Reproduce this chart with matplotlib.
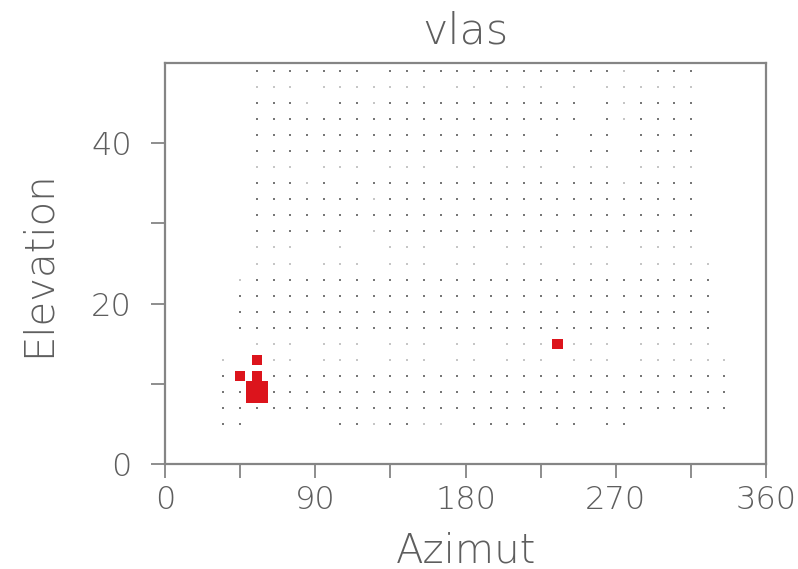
import matplotlib
matplotlib.use("Agg")
import matplotlib.pyplot as plt
import numpy as np

# Azimuth / elevation sampling grid
azimuths = list(range(35, 336, 10))          # 31 columns
elevations = list(range(49, 4, -2))          # 23 rows, top to bottom

# Per-row occupancy: 'o' = regular sample, '+' = weak sample, '.' = no sample
grid_rows = [
    "..ooooooo.oooooooooooooo+.ooo..",  # 49
    "..+++.+++++++.++.+++.+.++++++..",  # 47
    "..ooo+.oo+oooooooooooo.o+oooo..",  # 45
    "..oooooooooooooooooooo.o+oooo..",  # 43
    "..ooooooooooooooooo.o.oo.oooo..",  # 41
    "..ooooooooooooooooooo.oo.oooo..",  # 39
    "..+++.+++.+++.++.+++.+++.++++..",  # 37
    "..ooo+o.oooooooooooooooo+oooo..",  # 35
    "..ooooooo+ooooooooooooooooooo..",  # 33
    "..ooooooooooooooooooooooooooo..",  # 31
    "..oooooo.+ooooooooooooooooooo..",  # 29
    "..+++..+..+++.++.+++.+++.++++..",  # 27
    "..+++.+++.+++.++.+++.+++.+++++.",  # 25
    ".+oooooooooooooooooooooooooooo.",  # 23
    ".ooooooooooooooooooooooooooooo.",  # 21
    ".ooooooooooooooooooooooooooooo.",  # 19
    ".ooooooooooooooooooooooooooooo.",  # 17
    "..+++.+++.+++.++.+++.+++.+++++.",  # 15
    "+.+++.+++.+++.++.+++.+++.++++++",  # 13
    "ooooooooooooooooooooooooooooooo",  # 11
    "ooooooooooooooooooooooooooooooo",  # 9
    "ooooooooooooooooooooooooooooooo",  # 7
    "oo.....oo+oo++.oooo.oo.oo......",  # 5
]

# Strong detections (azimuth, elevation, relative strength)
hit_az = [45, 55, 55, 235, 55]
hit_el = [11, 13, 11, 15, 9]
hit_strength = [1.0, 1.0, 1.0, 1.0, 2.1]

TEXT = "#5e5e5e"
FRAME = "#858585"

plt.rcParams["font.family"] = ["DejaVu Sans"]

fig = plt.figure(figsize=(7.98, 5.69), dpi=100)
ax = fig.add_axes([0.2068, 0.1845, 0.7532, 0.7048])

strong_x, strong_y, weak_x, weak_y = [], [], [], []
for el, row in zip(elevations, grid_rows):
    for az, c in zip(azimuths, row):
        if c == "o":
            strong_x.append(az)
            strong_y.append(el)
        elif c == "+":
            weak_x.append(az)
            weak_y.append(el)

ax.scatter(weak_x, weak_y, s=3.0, marker="s", color="#c6c6c6",
           linewidths=0, zorder=2)
ax.scatter(strong_x, strong_y, s=3.0, marker="s", color="#777777",
           linewidths=0, zorder=2)

base_pt = 7.4
ax.scatter(hit_az, hit_el, s=[(base_pt * k) ** 2 for k in hit_strength],
           marker="s", color="#dc141c", linewidths=0, zorder=3)

ax.set_xlim(0, 360)
ax.set_ylim(0, 50)
ax.set_xticks([0, 90, 180, 270, 360])
ax.set_xticks([45, 135, 225, 315], minor=True)
ax.set_yticks([0, 20, 40])
ax.set_yticks([10, 30], minor=True)

for sp in ax.spines.values():
    sp.set_color(FRAME)
    sp.set_linewidth(1.6)

ax.tick_params(which="both", direction="out", length=10, width=1.3,
               color=FRAME, labelcolor=TEXT, labelsize=23)
ax.tick_params(axis="x", which="both", pad=5)
ax.tick_params(axis="y", which="both", pad=14)

label_kw = dict(fontweight="light", color=TEXT)
for lbl in ax.get_xticklabels() + ax.get_yticklabels():
    lbl.set_fontweight("light")

ax.set_xlabel("Azimut", fontsize=29, labelpad=12, **label_kw)
ax.set_ylabel("Elevation", fontsize=29, labelpad=24, **label_kw)
ax.set_title("vlas", fontsize=31, pad=14, **label_kw)

fig.savefig("out.png", dpi=100, facecolor="white")
